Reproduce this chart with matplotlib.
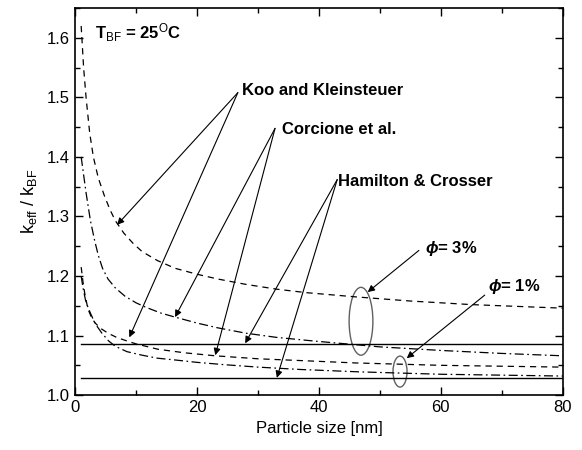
import matplotlib
matplotlib.use("Agg")
import matplotlib.pyplot as plt
from matplotlib.patches import Ellipse
from matplotlib.ticker import MultipleLocator

plt.rcParams['font.family'] = ['Liberation Sans', 'DejaVu Sans']
plt.rcParams['mathtext.fontset'] = 'custom'
plt.rcParams['mathtext.rm'] = 'Liberation Sans'
plt.rcParams['mathtext.it'] = 'Liberation Sans:italic:bold'
plt.rcParams['mathtext.bf'] = 'Liberation Sans:bold'
plt.rcParams['lines.scale_dashes'] = False

# values (particle size in nm vs k_eff/k_BF)
koo3_x = [1.0, 1.4, 1.8, 2.4, 3.0, 3.8, 4.8, 5.7, 6.6, 8.0, 9.5, 11.0, 13.5, 16.4, 20.0, 23.4, 28.0, 33.0, 38.0, 46.0, 55.0, 65.0, 80.0]
koo3_y = [1.62, 1.55, 1.50, 1.44, 1.40, 1.365, 1.335, 1.312, 1.293, 1.272, 1.255, 1.241, 1.226, 1.213, 1.203, 1.195, 1.186, 1.178, 1.172, 1.165, 1.158, 1.152, 1.146]
cor3_x = [1.0, 1.4, 1.8, 2.5, 3.2, 3.8, 4.5, 5.4, 6.6, 8.2, 10.0, 11.5, 14.0, 16.4, 20.0, 23.4, 28.0, 33.0, 39.0, 50.0, 60.0, 70.0, 80.0]
cor3_y = [1.40, 1.37, 1.34, 1.294, 1.26, 1.235, 1.213, 1.195, 1.18, 1.166, 1.155, 1.148, 1.138, 1.131, 1.121, 1.113, 1.104, 1.097, 1.091, 1.081, 1.075, 1.070, 1.066]
koo1_x = [1.0, 1.3, 1.6, 2.1, 2.7, 3.3, 4.2, 5.4, 6.8, 8.2, 10.0, 13.6, 18.0, 23.0, 30.0, 37.0, 46.0, 60.0, 80.0]
koo1_y = [1.215, 1.19, 1.17, 1.145, 1.13, 1.121, 1.112, 1.104, 1.097, 1.092, 1.086, 1.077, 1.071, 1.066, 1.061, 1.058, 1.054, 1.050, 1.047]
cor1_x = [1.0, 1.3, 1.7, 2.1, 2.5, 3.3, 4.4, 5.5, 6.6, 8.5, 11.0, 13.5, 16.4, 20.0, 24.6, 30.0, 37.0, 46.7, 60.0, 80.0]
cor1_y = [1.20, 1.18, 1.16, 1.148, 1.138, 1.12, 1.104, 1.091, 1.082, 1.073, 1.067, 1.062, 1.059, 1.055, 1.051, 1.047, 1.043, 1.039, 1.035, 1.032]
ham_x = [1.0, 80.0]
ham3_y = [1.086, 1.086]
ham1_y = [1.028, 1.028]

fig = plt.figure(figsize=(5.82, 4.5), dpi=100)
ax = fig.add_axes([0.129, 0.122, 0.838, 0.86])

dash = (0, (4.5, 3.5))
dashdot = (0, (6.5, 2.5, 1.2, 2.5))
ax.plot(koo3_x, koo3_y, color='k', lw=0.9, ls=dash)
ax.plot(cor3_x, cor3_y, color='k', lw=0.9, ls=dashdot)
ax.plot(koo1_x, koo1_y, color='k', lw=0.9, ls=dash)
ax.plot(cor1_x, cor1_y, color='k', lw=0.9, ls=dashdot)
ax.plot(ham_x, ham3_y, color='k', lw=1.0)
ax.plot(ham_x, ham1_y, color='k', lw=1.0)

ax.add_patch(Ellipse((46.9, 1.124), 3.9, 0.114, fill=False, ec='#606060', lw=1.0))
ax.add_patch(Ellipse((53.3, 1.0395), 2.3, 0.052, fill=False, ec='#606060', lw=1.0))

arr = dict(arrowstyle='-|>', color='k', lw=0.8, mutation_scale=10, shrinkA=0, shrinkB=0)
for (x0, y0), tips in [((26.7, 1.508), [(6.9, 1.286), (8.9, 1.097)]),
                       ((32.8, 1.448), [(16.4, 1.131), (23.0, 1.067)]),
                       ((43.0, 1.362), [(27.9, 1.087), (33.1, 1.029)]),
                       ((56.4, 1.243), [(48.0, 1.173)]),
                       ((67.2, 1.168), [(54.4, 1.062)])]:
    for tx, ty in tips:
        ax.annotate('', xy=(tx, ty), xytext=(x0, y0), arrowprops=arr)

bold = dict(fontsize=12, fontweight='bold', va='center', ha='left')
ax.text(27.4, 1.512, 'Koo and Kleinsteuer', **bold)
ax.text(33.9, 1.446, 'Corcione et al.', **bold)
ax.text(43.1, 1.358, 'Hamilton & Crosser', **bold)
ax.text(57.4, 1.247, r'$\phi$= 3%', **bold)
ax.text(67.7, 1.182, r'$\phi$= 1%', **bold)
ax.text(3.3, 1.609, r'T$_{\mathrm{BF}}$ = 25$^{\mathrm{O}}$C', **bold)

ax.set_xlim(0, 80)
ax.set_ylim(1.0, 1.65)
ax.xaxis.set_major_locator(MultipleLocator(20))
ax.xaxis.set_minor_locator(MultipleLocator(10))
ax.yaxis.set_major_locator(MultipleLocator(0.1))
ax.yaxis.set_minor_locator(MultipleLocator(0.05))
ax.tick_params(which='both', direction='in', top=True, right=True, labelsize=12, width=1.0)
ax.tick_params(which='major', length=6)
ax.tick_params(which='minor', length=3.5)
ax.set_yticks([1.0, 1.1, 1.2, 1.3, 1.4, 1.5, 1.6])
ax.set_yticklabels(['1.0', '1.1', '1.2', '1.3', '1.4', '1.5', '1.6'])
for s in ax.spines.values():
    s.set_linewidth(1.2)

ax.set_xlabel('Particle size [nm]', fontsize=12, labelpad=4)
ax.set_ylabel(r'k$_{\mathrm{eff}}$ / k$_{\mathrm{BF}}$', fontsize=13, labelpad=6)

fig.savefig('out.png', dpi=100)
